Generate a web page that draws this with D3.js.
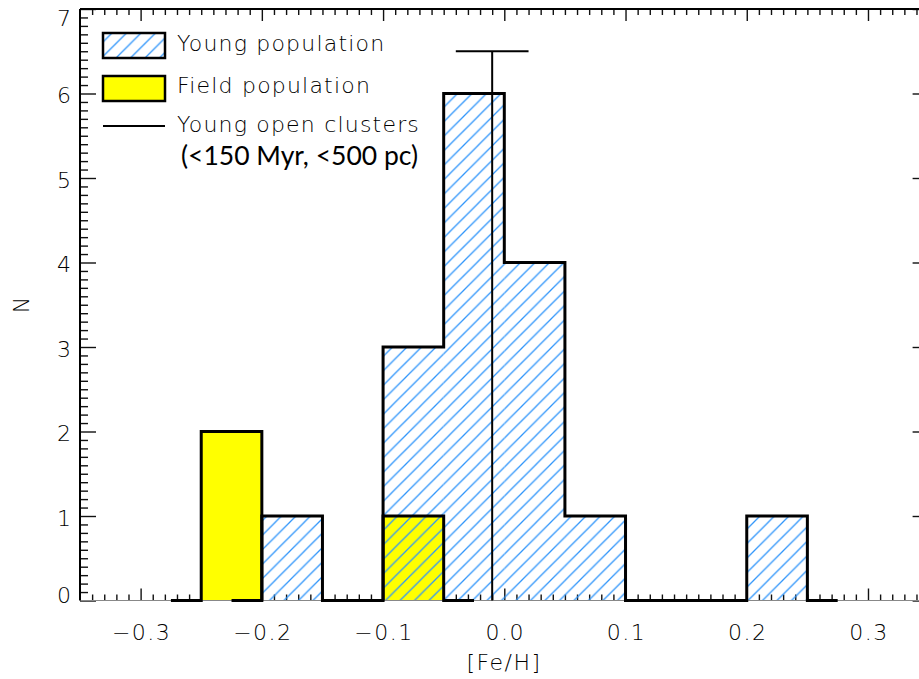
<!DOCTYPE html>
<html>
<head>
<meta charset="utf-8">
<script src="https://cdn.jsdelivr.net/npm/d3@7"></script>
<style>
  html, body { margin: 0; padding: 0; background: #fff; }
  svg { display: block; }
  .hershey { font-family: "DejaVu Sans", sans-serif; font-weight: 200; fill: #000; }
</style>
</head>
<body>
<svg id="chart" width="919" height="679"></svg>
<script>
// Histogram bins (centres, width 0.05 dex) and star counts
const binWidth = 0.05;
const youngBins   = [-0.225, -0.175, -0.125, -0.075, -0.025, 0.025, 0.075, 0.125, 0.175, 0.225, 0.275];
const youngCounts = [0, 1, 0, 3, 6, 4, 1, 0, 0, 1, 0];
const fieldBins   = [-0.275, -0.225, -0.175, -0.125, -0.075, -0.025];
const fieldCounts = [0, 2, 0, 0, 1, 0];

// Young open clusters: mean [Fe/H], spread and marker height
const clusterFeH = -0.01;
const clusterSpread = 0.03;
const clusterHeight = 6.5;

// Axis ticks and labels
const xMajorTicks = [-0.3, -0.2, -0.1, 0.0, 0.1, 0.2, 0.3];
const yMajorTicks = [0, 1, 2, 3, 4, 5, 6, 7];
const xTitle = "[Fe/H]";
const yTitle = "N";
const legendLabels = ["Young population", "Field population", "Young open clusters", "(<150 Myr, <500 pc)"];

const svg = d3.select("#chart");
const x = d3.scaleLinear().domain([-0.35, 0.35]).range([80, 928.6]);
const y = d3.scaleLinear().domain([0, 7]).range([600.5, 9]);
const [x0, x1] = x.range();
const [yb, yt] = y.range();

// hatch pattern
const hs = 14.5;
const defs = svg.append("defs");
defs.append("pattern")
  .attr("id", "hatch").attr("patternUnits", "userSpaceOnUse")
  .attr("width", hs).attr("height", hs)
  .append("path")
  .attr("d", `M0,${hs} L${hs},0 M${-hs/4},${hs/4} L${hs/4},${-hs/4} M${3*hs/4},${5*hs/4} L${5*hs/4},${3*hs/4}`)
  .attr("stroke", "#2f95fa").attr("stroke-width", 1.3);

// minor ticks
const xMinor = d3.range(-34, 35).map(d => d / 100).filter(v => Math.abs(Math.round(v * 100)) % 10 !== 0);
const yMinor = d3.range(0, 71).map(d => d / 10).filter((v, i) => i % 10 !== 0);

function tickAxis(gen, tr, values, size) {
  const g = svg.append("g").attr("transform", tr)
    .call(gen.tickValues(values).tickSize(size).tickSizeOuter(0).tickFormat(""));
  g.select(".domain").remove();
  g.selectAll("line").attr("stroke", "#111").attr("stroke-width", 1.4);
  return g;
}
tickAxis(d3.axisBottom(x), `translate(0,${yb})`, xMajorTicks, -12);
tickAxis(d3.axisBottom(x), `translate(0,${yb})`, xMinor, -6);
tickAxis(d3.axisTop(x), `translate(0,${yt})`, xMajorTicks, -12);
tickAxis(d3.axisTop(x), `translate(0,${yt})`, xMinor, -6);
tickAxis(d3.axisLeft(y), `translate(${x0},0)`, yMajorTicks, -16);
tickAxis(d3.axisLeft(y), `translate(${x0},0)`, yMinor, -8);
tickAxis(d3.axisRight(y), `translate(${x1},0)`, yMajorTicks, -16);
tickAxis(d3.axisRight(y), `translate(${x1},0)`, yMinor, -8);

// fills
const h = binWidth / 2;
svg.append("g").selectAll("rect")
  .data(fieldBins.map((c, i) => ({c, n: fieldCounts[i]})).filter(d => d.n > 0))
  .join("rect")
  .attr("x", d => x(d.c - h)).attr("width", d => x(d.c + h) - x(d.c - h))
  .attr("y", d => y(d.n)).attr("height", d => y(0) - y(d.n) - 0.5)
  .attr("fill", "#ffff00");
svg.append("g").selectAll("rect")
  .data(youngBins.map((c, i) => ({c, n: youngCounts[i]})).filter(d => d.n > 0))
  .join("rect")
  .attr("x", d => x(d.c - h)).attr("width", d => x(d.c + h) - x(d.c - h))
  .attr("y", d => y(d.n)).attr("height", d => y(0) - y(d.n))
  .attr("fill", "url(#hatch)");

// frame
svg.append("line").attr("x1", x0).attr("x2", x1).attr("y1", yb).attr("y2", yb)
  .attr("stroke", "#888").attr("stroke-width", 1.2);
svg.append("line").attr("x1", x0).attr("x2", x1).attr("y1", yt).attr("y2", yt)
  .attr("stroke", "#000").attr("stroke-width", 2);
svg.append("line").attr("x1", x0).attr("x2", x0).attr("y1", yb).attr("y2", yt)
  .attr("stroke", "#000").attr("stroke-width", 2);
svg.append("line").attr("x1", x1).attr("x2", x1).attr("y1", yb).attr("y2", yt)
  .attr("stroke", "#000").attr("stroke-width", 2);

// histogram outlines in step mode (half-width end segments)
function stepPath(centers, counts, skipInnerZeros) {
  const p = d3.path();
  const N = centers.length;
  p.moveTo(x(centers[0]), y(counts[0]));
  p.lineTo(x(centers[0] + h), y(counts[0]));
  for (let i = 1; i < N; i++) {
    const e = centers[i] - h;
    const end = i === N - 1 ? centers[i] : centers[i] + h;
    if (counts[i - 1] !== counts[i]) p.lineTo(x(e), y(counts[i]));
    else p.moveTo(x(e), y(counts[i]));
    if (skipInnerZeros && counts[i] === 0 && i < N - 1) p.moveTo(x(end), y(0));
    else p.lineTo(x(end), y(counts[i]));
  }
  return p.toString();
}
svg.append("path").attr("d", stepPath(fieldBins, fieldCounts, true))
  .attr("fill", "none").attr("stroke", "#000").attr("stroke-width", 3);
svg.append("path").attr("d", stepPath(youngBins, youngCounts, false))
  .attr("fill", "none").attr("stroke", "#000").attr("stroke-width", 3);

// open cluster marker
svg.append("line").attr("x1", x(clusterFeH)).attr("x2", x(clusterFeH))
  .attr("y1", y(0)).attr("y2", y(clusterHeight)).attr("stroke", "#000").attr("stroke-width", 2);
svg.append("line").attr("x1", x(clusterFeH - clusterSpread)).attr("x2", x(clusterFeH + clusterSpread))
  .attr("y1", y(clusterHeight)).attr("y2", y(clusterHeight)).attr("stroke", "#000").attr("stroke-width", 2);

// tick labels
const fmt = d3.format(".1f");
svg.append("g").selectAll("text").data(xMajorTicks).join("text")
  .attr("class", "hershey").attr("font-size", 22).attr("letter-spacing", 1.5)
  .attr("text-anchor", "middle").attr("x", d => x(d) + 1).attr("y", 640)
  .text(d => fmt(d));
svg.append("g").selectAll("text").data(yMajorTicks).join("text")
  .attr("class", "hershey").attr("font-size", 22)
  .attr("text-anchor", "end").attr("x", 71)
  .attr("y", d => Math.min(Math.max(y(d) + 1.5, 18), 595) + 8)
  .text(d => d);

// axis titles
svg.append("text").attr("class", "hershey").attr("font-size", 22).attr("letter-spacing", 1.5)
  .attr("text-anchor", "middle").attr("x", 504).attr("y", 670).text(xTitle);
svg.append("text").attr("class", "hershey").attr("font-size", 22)
  .attr("text-anchor", "middle").attr("transform", "translate(29,305) rotate(-90)").text(yTitle);

// legend
const lg = svg.append("g");
lg.append("rect").attr("x", 103).attr("y", 33).attr("width", 62).attr("height", 25)
  .attr("fill", "url(#hatch)").attr("stroke", "#000").attr("stroke-width", 2.5);
lg.append("rect").attr("x", 103).attr("y", 76).attr("width", 62).attr("height", 25)
  .attr("fill", "#ffff00").attr("stroke", "#000").attr("stroke-width", 2.5);
lg.append("line").attr("x1", 103).attr("x2", 165).attr("y1", 126).attr("y2", 126)
  .attr("stroke", "#000").attr("stroke-width", 2);
[[50.5, 0], [92.5, 1], [131.5, 2]].forEach(([by, i]) => {
  lg.append("text").attr("class", "hershey").attr("font-size", 22).attr("letter-spacing", 1.2)
    .attr("x", 177).attr("y", by).text(legendLabels[i]);
});
lg.append("text").attr("font-family", "Lato, 'Open Sans', sans-serif").attr("font-size", 26.5)
  .attr("fill", "#000").attr("x", 181).attr("y", 165).text(legendLabels[3]);
</script>
</body>
</html>
